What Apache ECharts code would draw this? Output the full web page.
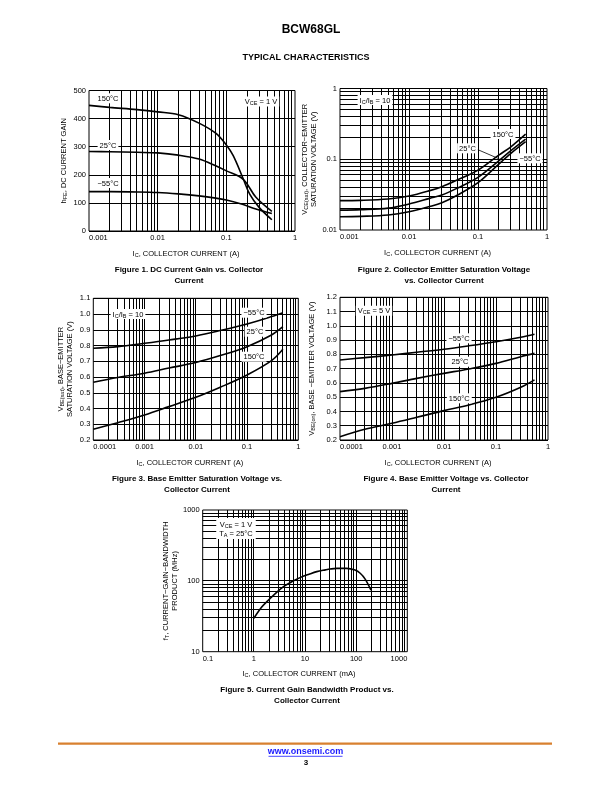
<!DOCTYPE html>
<html><head><meta charset="utf-8">
<script src="https://cdn.jsdelivr.net/npm/echarts@6/dist/echarts.min.js"></script>
<style>html,body{margin:0;padding:0;background:#fff}#c{width:612px;height:792px}</style>
</head><body><div id="c"></div>
<script>
const FONT = '"Liberation Sans", Arial, Helvetica, sans-serif';

// ---- Figure 1: DC current gain vs collector current ----
const fig1XTicks = ['0.001', '0.01', '0.1', '1'];
const fig1YTicks = ['0', '100', '200', '300', '400', '500'];
const fig1Ic150 = [0.001, 0.002, 0.005, 0.01, 0.02, 0.04, 0.07, 0.1, 0.126, 0.176, 0.22, 0.3, 0.46];
const fig1Hfe150 = [447, 440, 432, 424, 414, 384, 348, 306, 268, 186, 130, 84, 40];
const fig1Ic25 = [0.001, 0.002, 0.005, 0.01, 0.02, 0.04, 0.07, 0.1, 0.176, 0.27, 0.46];
const fig1Hfe25 = [283, 282, 280, 278, 270, 256, 232, 214, 184, 120, 70];
const fig1IcM55 = [0.001, 0.002, 0.005, 0.01, 0.02, 0.04, 0.07, 0.1, 0.176, 0.27, 0.46];
const fig1HfeM55 = [140, 140, 139, 137, 132, 125, 117, 110, 94, 78, 62];

// ---- Figure 2: VCE(sat) vs collector current ----
const fig2XTicks = ['0.001', '0.01', '0.1', '1'];
const fig2YTicks = ['0.01', '0.1', '1'];
const fig2Ic = [0.001, 0.002, 0.005, 0.01, 0.02, 0.03, 0.05, 0.1, 0.2, 0.3, 0.49];
const fig2Vce150 = [0.026, 0.0262, 0.0274, 0.0302, 0.036, 0.041, 0.051, 0.0703, 0.1145, 0.15, 0.226];
const fig2Vce25 = [0.0191, 0.0194, 0.0204, 0.0233, 0.028, 0.0312, 0.039, 0.0554, 0.095, 0.132, 0.192];
const fig2VceM55 = [0.0154, 0.0156, 0.0163, 0.0181, 0.0215, 0.0243, 0.031, 0.0466, 0.0855, 0.121, 0.177];

// ---- Figure 3: VBE(sat) vs collector current ----
const fig3XTicks = ['0.0001', '0.001', '0.01', '0.1', '1'];
const fig3YTicks = ['0.2', '0.3', '0.4', '0.5', '0.6', '0.7', '0.8', '0.9', '1.0', '1.1'];
const fig3Ic = [0.0001, 0.0003, 0.001, 0.003, 0.01, 0.03, 0.1, 0.3, 0.5];
const fig3VbeM55 = [0.783, 0.793, 0.814, 0.835, 0.861, 0.895, 0.937, 0.984, 1.009];
const fig3Vbe25 = [0.567, 0.597, 0.624, 0.657, 0.692, 0.736, 0.793, 0.867, 0.92];
const fig3Vbe150 = [0.268, 0.31, 0.359, 0.412, 0.471, 0.535, 0.613, 0.704, 0.776];

// ---- Figure 4: VBE(on) vs collector current ----
const fig4XTicks = ['0.0001', '0.001', '0.01', '0.1', '1'];
const fig4YTicks = ['0.2', '0.3', '0.4', '0.5', '0.6', '0.7', '0.8', '0.9', '1.0', '1.1', '1.2'];
const fig4Ic = [0.0001, 0.0003, 0.001, 0.003, 0.01, 0.03, 0.1, 0.3, 0.55];
const fig4VbeM55 = [0.761, 0.777, 0.796, 0.815, 0.836, 0.86, 0.889, 0.92, 0.941];
const fig4Vbe25 = [0.539, 0.562, 0.597, 0.632, 0.667, 0.698, 0.737, 0.784, 0.807];
const fig4Vbe150 = [0.223, 0.275, 0.317, 0.359, 0.406, 0.445, 0.499, 0.569, 0.621];

// ---- Figure 5: fT vs collector current (mA) ----
const fig5XTicks = ['0.1', '1', '10', '100', '1000'];
const fig5YTicks = ['10', '100', '1000'];
const fig5Ic = [1, 1.4, 1.8, 2.5, 3.8, 5.5, 8, 12, 17, 25, 31, 42, 65, 95, 120, 150, 195];
const fig5Ft = [29.6, 42, 51, 64, 83, 97, 111, 124, 135, 143, 147, 150, 150, 142, 128, 106, 74];

// ---------------------------------------------------------------
const pairs = (xs, ys) => xs.map((x, i) => [x, ys[i]]);
function logLines(lo, hi) {
  const out = [];
  for (let e = lo; e < hi; e++) {
    for (let k = 1; k <= 9; k++) {
      if (k === 1 && e === lo) continue;
      out.push(+(k * Math.pow(10, e)).toPrecision(6));
    }
  }
  return out;
}
const RICH = {
  n: {fontSize: 7.5, fontFamily: FONT, color: '#000', fill: '#000', lineHeight: 9},
  s: {fontSize: 5.5, fontFamily: FONT, color: '#000', fill: '#000', verticalAlign: 'bottom', lineHeight: 6}
};
const logLabel = (ticks, min) => (v) => ticks[Math.round(Math.log10(v / min))];
const linLabel = (ticks, min, step) => (v) => ticks[Math.round((v - min) / step)];

const grids = [
  {left: 89, top: 90.5, width: 206, height: 140.5},
  {left: 340, top: 88.5, width: 207, height: 141.5},
  {left: 93.3, top: 298.3, width: 205, height: 141.7},
  {left: 340, top: 297.3, width: 208, height: 142.7},
  {left: 202.7, top: 510, width: 204.6, height: 141.7}
].map(g => Object.assign(g, {show: true, borderColor: '#000', borderWidth: 1, backgroundColor: '#fff'}));

const labelBase = {color: '#000', fontSize: 7.5, fontFamily: FONT};
function xAxis(i, min, max, ticks, name, gap, alignMax) {
  return {
    type: 'log', gridIndex: i, min, max, logBase: 10,
    axisLine: {show: false}, axisTick: {show: false}, splitLine: {show: false},
    axisLabel: Object.assign({}, labelBase, {margin: 3, formatter: logLabel(ticks, min), alignMinLabel: 'left', alignMaxLabel: alignMax || 'center'}),
    name, nameLocation: 'middle', nameGap: gap,
    nameTextStyle: {rich: RICH, padding: [0, 12, 0, 0]}
  };
}
function yLog(i, min, max, ticks, name, gap) {
  return {
    type: 'log', gridIndex: i, min, max, logBase: 10,
    axisLine: {show: false}, axisTick: {show: false}, splitLine: {show: false},
    axisLabel: Object.assign({}, labelBase, {margin: 3, formatter: logLabel(ticks, min)}),
    name, nameLocation: 'middle', nameGap: gap, nameRotate: 90,
    nameTextStyle: {rich: RICH, lineHeight: 8.5}
  };
}
function yLin(i, min, max, step, ticks, name, gap) {
  return {
    type: 'value', gridIndex: i, min, max, interval: step,
    axisLine: {show: false}, axisTick: {show: false},
    splitLine: {show: true, lineStyle: {color: '#000', width: 1}},
    axisLabel: Object.assign({}, labelBase, {margin: 3, formatter: linLabel(ticks, min, step)}),
    name, nameLocation: 'middle', nameGap: gap, nameRotate: 90,
    nameTextStyle: {rich: RICH, lineHeight: 8.5}
  };
}
const XNAME_A = '{n|I}{s|C}{n|, COLLECTOR CURRENT (A)}';

// grid lines drawn through the axes' own scales (custom series), snapped to pixels for crispness
const snap = (v) => Math.round(v - 0.5) + 0.5;
function gridLines(i, xs, ys, xmin, xmax, ymin, ymax) {
  const data = xs.map(v => [v, ymin, 0]).concat(ys.map(v => [xmin, v, 1]));
  return {
    type: 'custom', xAxisIndex: i, yAxisIndex: i, silent: true, z: 1, data,
    encode: {x: 0, y: 1},
    renderItem: (params, api) => {
      const h = api.value(2);
      const p1 = h ? api.coord([xmin, api.value(1)]) : api.coord([api.value(0), ymin]);
      const p2 = h ? api.coord([xmax, api.value(1)]) : api.coord([api.value(0), ymax]);
      const shape = h
        ? {x1: p1[0], y1: snap(p1[1]), x2: p2[0], y2: snap(p1[1])}
        : {x1: snap(p1[0]), y1: p1[1], x2: snap(p1[0]), y2: p2[1]};
      return {type: 'line', shape, style: {stroke: '#000', lineWidth: 1}};
    }
  };
}
function curve(i, xs, ys) {
  return {
    type: 'line', xAxisIndex: i, yAxisIndex: i, data: pairs(xs, ys), smooth: 0.35,
    symbol: 'none', silent: true, z: 3, lineStyle: {color: '#000', width: 1.6}
  };
}

const series = [
  gridLines(0, logLines(-3, 0), [], 0.001, 1, 0, 500),
  gridLines(1, logLines(-3, 0), logLines(-2, 0), 0.001, 1, 0.01, 1),
  gridLines(2, logLines(-4, 0), [], 0.0001, 1, 0.2, 1.1),
  gridLines(3, logLines(-4, 0), [], 0.0001, 1, 0.2, 1.2),
  gridLines(4, logLines(-1, 3), logLines(1, 3), 0.1, 1000, 10, 1000),
  curve(0, fig1Ic150, fig1Hfe150), curve(0, fig1Ic25, fig1Hfe25), curve(0, fig1IcM55, fig1HfeM55),
  curve(1, fig2Ic, fig2Vce150), curve(1, fig2Ic, fig2Vce25), curve(1, fig2Ic, fig2VceM55),
  curve(2, fig3Ic, fig3VbeM55), curve(2, fig3Ic, fig3Vbe25), curve(2, fig3Ic, fig3Vbe150),
  curve(3, fig4Ic, fig4VbeM55), curve(3, fig4Ic, fig4Vbe25), curve(3, fig4Ic, fig4Vbe150),
  curve(4, fig5Ic, fig5Ft)
];

// ---- text graphics ----
function txt(x, y, text, opt) {
  return {
    type: 'text', x, y, z: 100, silent: true,
    style: Object.assign({text, fontFamily: FONT, fontSize: 7.5, fill: '#000', align: 'center', verticalAlign: 'middle'}, opt || {})
  };
}
function box(x, y, text) {
  return txt(x, y, text, {backgroundColor: '#fff', padding: [1, 2, 0, 2], rich: RICH});
}
const bold8 = {fontSize: 8, fontWeight: 'bold'};
const graphics = [
  txt(311, 30, 'BCW68GL', {fontSize: 12, fontWeight: 'bold'}),
  txt(306, 57.3, 'TYPICAL CHARACTERISTICS', {fontSize: 9, fontWeight: 'bold'}),
  // captions
  txt(189, 269.5, 'Figure 1. DC Current Gain vs. Collector', bold8),
  txt(189, 280.5, 'Current', bold8),
  txt(444, 269.5, 'Figure 2. Collector Emitter Saturation Voltage', bold8),
  txt(444, 280.5, 'vs. Collector Current', bold8),
  txt(197, 479, 'Figure 3. Base Emitter Saturation Voltage vs.', bold8),
  txt(197, 490, 'Collector Current', bold8),
  txt(446, 479, 'Figure 4. Base Emitter Voltage vs. Collector', bold8),
  txt(446, 490, 'Current', bold8),
  txt(307, 689.5, 'Figure 5. Current Gain Bandwidth Product vs.', bold8),
  txt(307, 700.5, 'Collector Current', bold8),
  // fig 1 annotations
  box(108, 98.3, '{n|150°C}'),
  box(108, 145, '{n|25°C}'),
  box(108, 183, '{n|−55°C}'),
  box(261, 101.5, '{n|V}{s|CE}{n| = 1 V}'),
  // fig 2 annotations
  box(375, 100, '{n|I}{s|C}{n|/I}{s|B}{n| = 10}'),
  box(503, 134, '{n|150°C}'),
  box(467.5, 148.3, '{n|25°C}'),
  box(530, 158.3, '{n|−55°C}'),
  {type: 'line', z: 99, silent: true, shape: {x1: 477, y1: 149.3, x2: 499.5, y2: 159}, style: {stroke: '#000', lineWidth: 0.8}},
  // fig 3 annotations
  box(128, 314, '{n|I}{s|C}{n|/I}{s|B}{n| = 10}'),
  box(254, 312.7, '{n|−55°C}'),
  box(255, 331.7, '{n|25°C}'),
  box(254, 356.7, '{n|150°C}'),
  // fig 4 annotations
  box(374, 310.7, '{n|V}{s|CE}{n| = 5 V}'),
  box(459, 338.3, '{n|−55°C}'),
  box(460, 361.7, '{n|25°C}'),
  box(459.3, 398.3, '{n|150°C}'),
  // fig 5 annotation
  txt(236, 528.5, '{n|V}{s|CE}{n| = 1 V}\n{n|T}{s|A}{n| = 25°C}', {backgroundColor: '#fff', padding: [2, 3, 1, 3], rich: RICH}),
  // footer
  {type: 'line', z: 100, silent: true, shape: {x1: 58, y1: 743.7, x2: 552, y2: 743.7}, style: {stroke: '#D8802F', lineWidth: 2.2}},
  txt(305.5, 752, 'www.onsemi.com', {fontSize: 9, fontWeight: 'bold', fill: '#1a1aff'}),
  {type: 'line', z: 100, silent: true, shape: {x1: 268.5, y1: 756.3, x2: 342.5, y2: 756.3}, style: {stroke: '#1a1aff', lineWidth: 0.8}},
  txt(306, 762.5, '3', {fontSize: 8, fontWeight: 'bold'})
];

const option = {
  animation: false,
  backgroundColor: '#fff',
  grid: grids,
  xAxis: [
    xAxis(0, 0.001, 1, fig1XTicks, XNAME_A, 18),
    xAxis(1, 0.001, 1, fig2XTicks, XNAME_A, 18),
    xAxis(2, 0.0001, 1, fig3XTicks, XNAME_A, 18),
    xAxis(3, 0.0001, 1, fig4XTicks, XNAME_A, 18),
    xAxis(4, 0.1, 1000, fig5XTicks, '{n|I}{s|C}{n|, COLLECTOR CURRENT (mA)}', 18, 'right')
  ],
  yAxis: [
    yLin(0, 0, 500, 100, fig1YTicks, '{n|h}{s|FE}{n|, DC CURRENT GAIN}', 21),
    yLog(1, 0.01, 1, fig2YTicks, '{n|V}{s|CE(sat)}{n|, COLLECTOR−EMITTER}\n{n|SATURATION VOLTAGE (V)}', 18),
    yLin(2, 0.2, 1.1, 0.1, fig3YTicks, '{n|V}{s|BE(sat)}{n|, BASE−EMITTER}\n{n|SATURATION VOLTAGE (V)}', 18.5),
    yLin(3, 0.2, 1.2, 0.1, fig4YTicks, '{n|V}{s|BE(on)}{n|, BASE −EMITTER VOLTAGE (V)}', 24),
    yLog(4, 10, 1000, fig5YTicks, '{n|f}{s|T}{n|, CURRENT−GAIN−BANDWIDTH}\n{n|PRODUCT (MHz)}', 19.5)
  ],
  series,
  graphic: graphics
};
const chart = echarts.init(document.getElementById('c'), null, {renderer: 'canvas', width: 612, height: 792});
chart.setOption(option);
</script>
</body></html>
